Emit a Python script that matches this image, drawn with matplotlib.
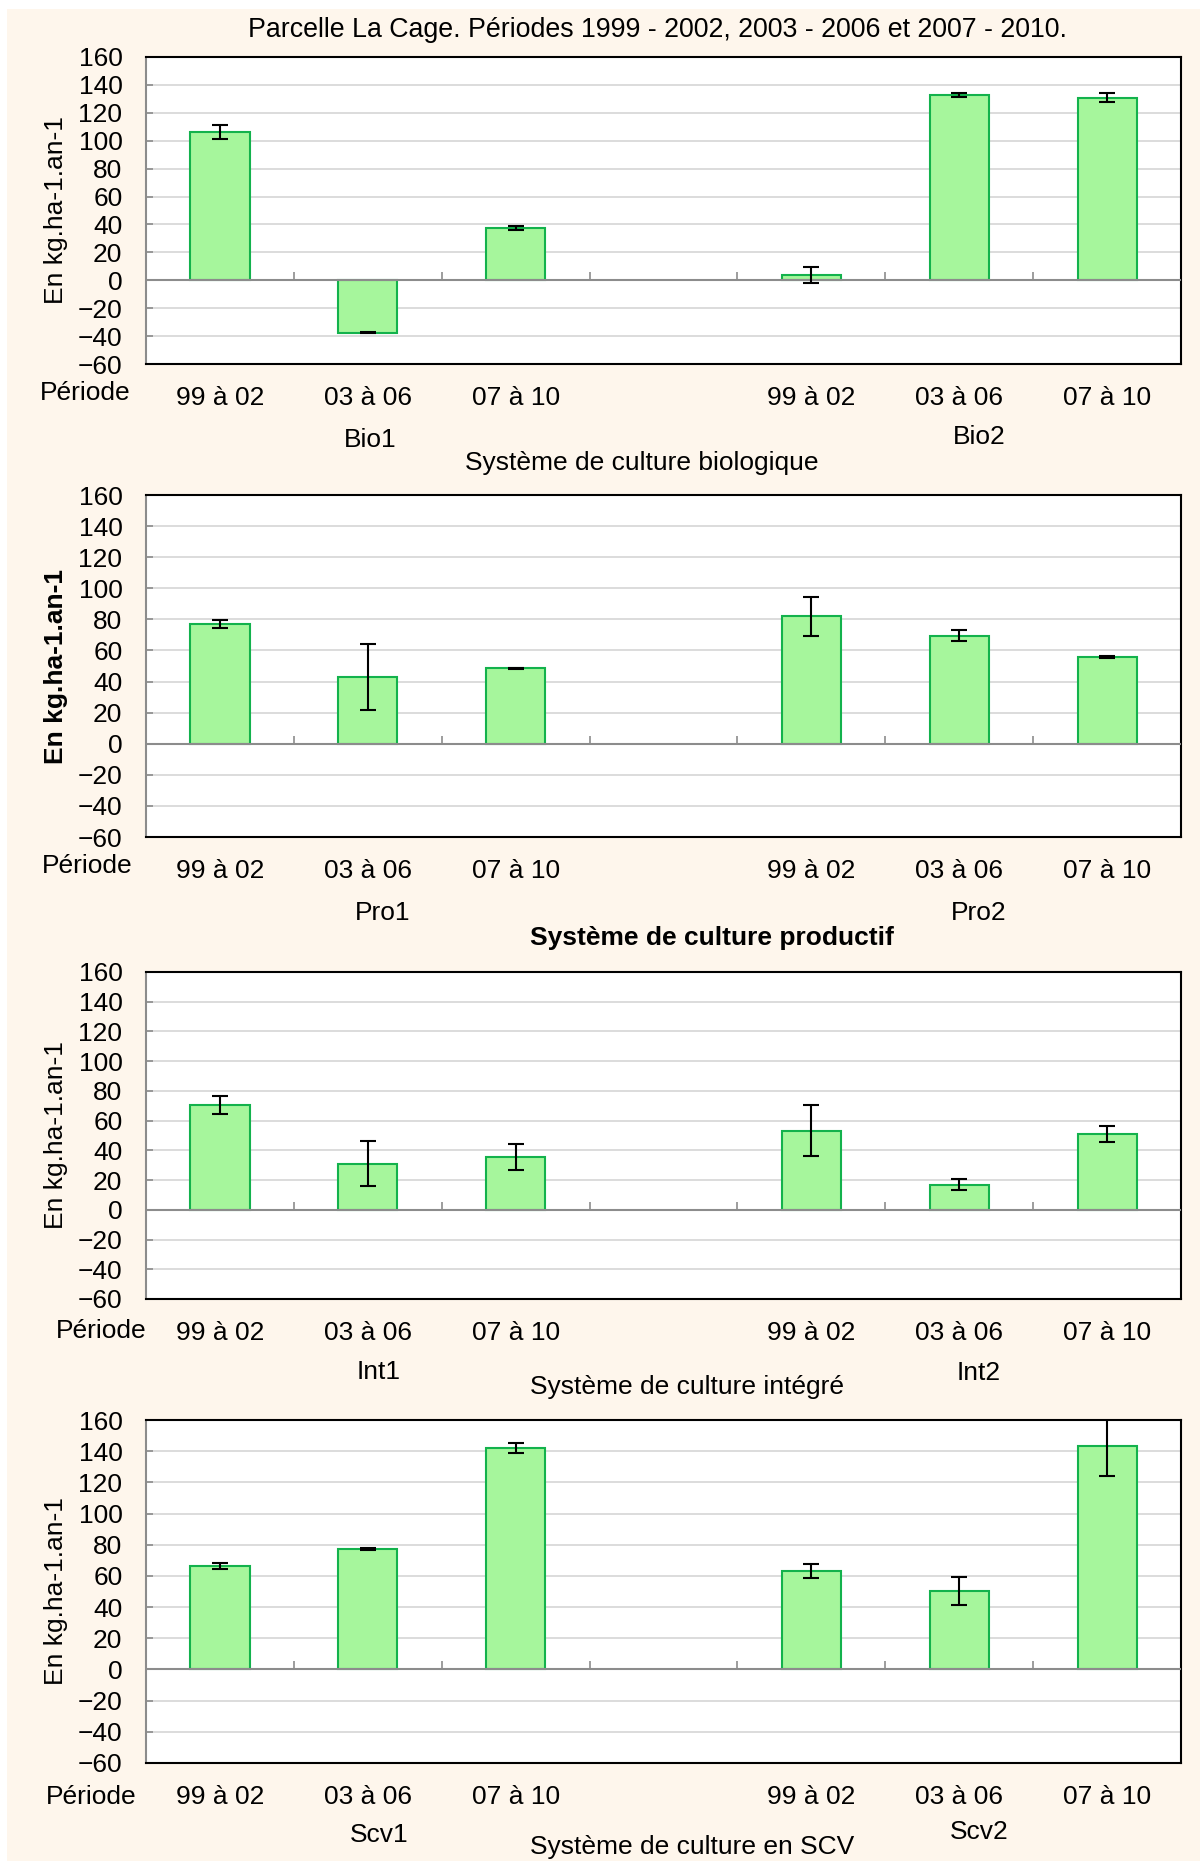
import matplotlib.pyplot as plt
import numpy as np
from matplotlib.patches import Rectangle

plt.rcParams['font.family'] = ['Liberation Sans', 'DejaVu Sans']

W, H = 1200, 1861

periodes = ['99 à 02', '03 à 06', '07 à 10']

# Bilan par période (kg/ha/an) et écart-types
bio1 = [106, -37.5, 37.5]
bio1_err = [5, 0.5, 1.6]
bio2 = [3.8, 132.5, 130.8]
bio2_err = [5.5, 1.5, 3.2]

pro1 = [77, 43, 48.5]
pro1_err = [2.7, 21.3, 0.5]
pro2 = [82, 69.5, 55.6]
pro2_err = [12.5, 3.4, 0.6]

int1 = [70.3, 31.1, 35.4]
int1_err = [6, 15.4, 8.6]
int2 = [53.3, 16.8, 51.3]
int2_err = [17, 3.8, 5.4]

scv1 = [66.4, 77.5, 142.2]
scv1_err = [1.9, 0.7, 3.3]
scv2 = [63.4, 50.4, 143.3]
scv2_err = [4.5, 9.2, 19.3]

systemes = ['Système de culture biologique', 'Système de culture productif',
            'Système de culture intégré', 'Système de culture en SCV']
groupes = [('Bio1', 'Bio2'), ('Pro1', 'Pro2'), ('Int1', 'Int2'), ('Scv1', 'Scv2')]
valeurs = [(bio1, bio2), (pro1, pro2), (int1, int2), (scv1, scv2)]
erreurs = [(bio1_err, bio2_err), (pro1_err, pro2_err), (int1_err, int2_err), (scv1_err, scv2_err)]

titre = 'Parcelle La Cage. Périodes 1999 - 2002, 2003 - 2006 et 2007 - 2010.'

# mise en page (pixels)
ax_left, ax_right = 146, 1181
tops = [57, 495, 972, 1420]
bottoms = [364, 837, 1299, 1763]
periode_pos = [(130, 393), (133, 866), (147, 1331), (136, 1797)]
groupe_pos = [[(370, 440), (979, 437)], [(383, 913), (979, 913)],
              [(379, 1372), (979, 1373)], [(379, 1835), (979, 1832)]]
systeme_pos = [(642, 463), (712, 938), (687, 1387), (692, 1847)]
gras = [False, True, False, False]

FILL = '#a6f69c'
EDGE = '#13b24c'
FS = 19


def fx(x):
    return x / W


def fy(y):
    return 1 - y / H


fig = plt.figure(figsize=(W / 100, H / 100), dpi=100, facecolor='white')
fig.patches.append(Rectangle((fx(7), 0), 1, fy(9), transform=fig.transFigure,
                             facecolor='#fef6ec', edgecolor='none', zorder=-10))

fig.text(fx(657), fy(30), titre, ha='center', va='center', fontsize=19.3)

x1 = np.arange(3)
x2 = np.arange(3) + 4
slots = list(periodes) + [''] + list(periodes)
bounds = np.arange(0.5, 6, 1.0)

for i in range(4):
    t, b = tops[i], bottoms[i]
    ax = fig.add_axes([fx(ax_left), fy(b), (ax_right - ax_left) / W, (b - t) / H])
    ax.set_facecolor('white')
    v1, v2 = valeurs[i]
    e1, e2 = erreurs[i]

    ax.bar(x1, v1, width=0.4, color=FILL, edgecolor=EDGE, linewidth=1.5, zorder=2)
    ax.bar(x2, v2, width=0.4, color=FILL, edgecolor=EDGE, linewidth=1.5, zorder=2)
    ax.errorbar(x1, v1, yerr=e1, fmt='none', ecolor='black', elinewidth=1.5,
                capsize=6, capthick=1.5, zorder=4)
    ax.errorbar(x2, v2, yerr=e2, fmt='none', ecolor='black', elinewidth=1.5,
                capsize=6, capthick=1.5, zorder=4)

    ax.axhline(0, color='#8c8c8c', linewidth=1.5, zorder=3)
    ax.plot(bounds, np.zeros(len(bounds)), linestyle='none', marker=2,
            markersize=6, markeredgewidth=1.2, color='#8c8c8c', zorder=3)

    ax.set_xlim(-0.5, 6.5)
    ax.set_ylim(-60, 160)
    ax.set_yticks(np.arange(-60, 161, 20))
    ax.yaxis.grid(True, color='#d9d9d9', linewidth=1.3, zorder=0)
    ax.set_axisbelow(True)
    ax.tick_params(axis='y', direction='in', length=5, width=1.2, color='#8c8c8c',
                   labelsize=FS, pad=17)
    ax.set_xticks(np.arange(7), slots)
    ax.tick_params(axis='x', length=0, labelsize=FS, pad=15.5)

    for side in ['top', 'right', 'bottom']:
        ax.spines[side].set_color('black')
        ax.spines[side].set_linewidth(1.5)
    ax.spines['left'].set_color('#8c8c8c')
    ax.spines['left'].set_linewidth(1.5)

    weight = 'bold' if gras[i] else 'normal'
    ax.set_ylabel('En kg.ha-1.an-1', fontsize=FS, fontweight=weight)
    ax.yaxis.label.set_va('center')
    ax.yaxis.set_label_coords((55.5 - ax_left) / (ax_right - ax_left), 0.5)

    px, py = periode_pos[i]
    fig.text(fx(px), fy(py), 'Période', ha='right', va='center', fontsize=FS)
    for (gx, gy), nom in zip(groupe_pos[i], groupes[i]):
        fig.text(fx(gx), fy(gy), nom, ha='center', va='center', fontsize=FS)
    sx, sy = systeme_pos[i]
    fig.text(fx(sx), fy(sy), systemes[i], ha='center', va='center', fontsize=FS,
             fontweight=weight)

fig.savefig('out.png', dpi=100, facecolor=fig.get_facecolor())
